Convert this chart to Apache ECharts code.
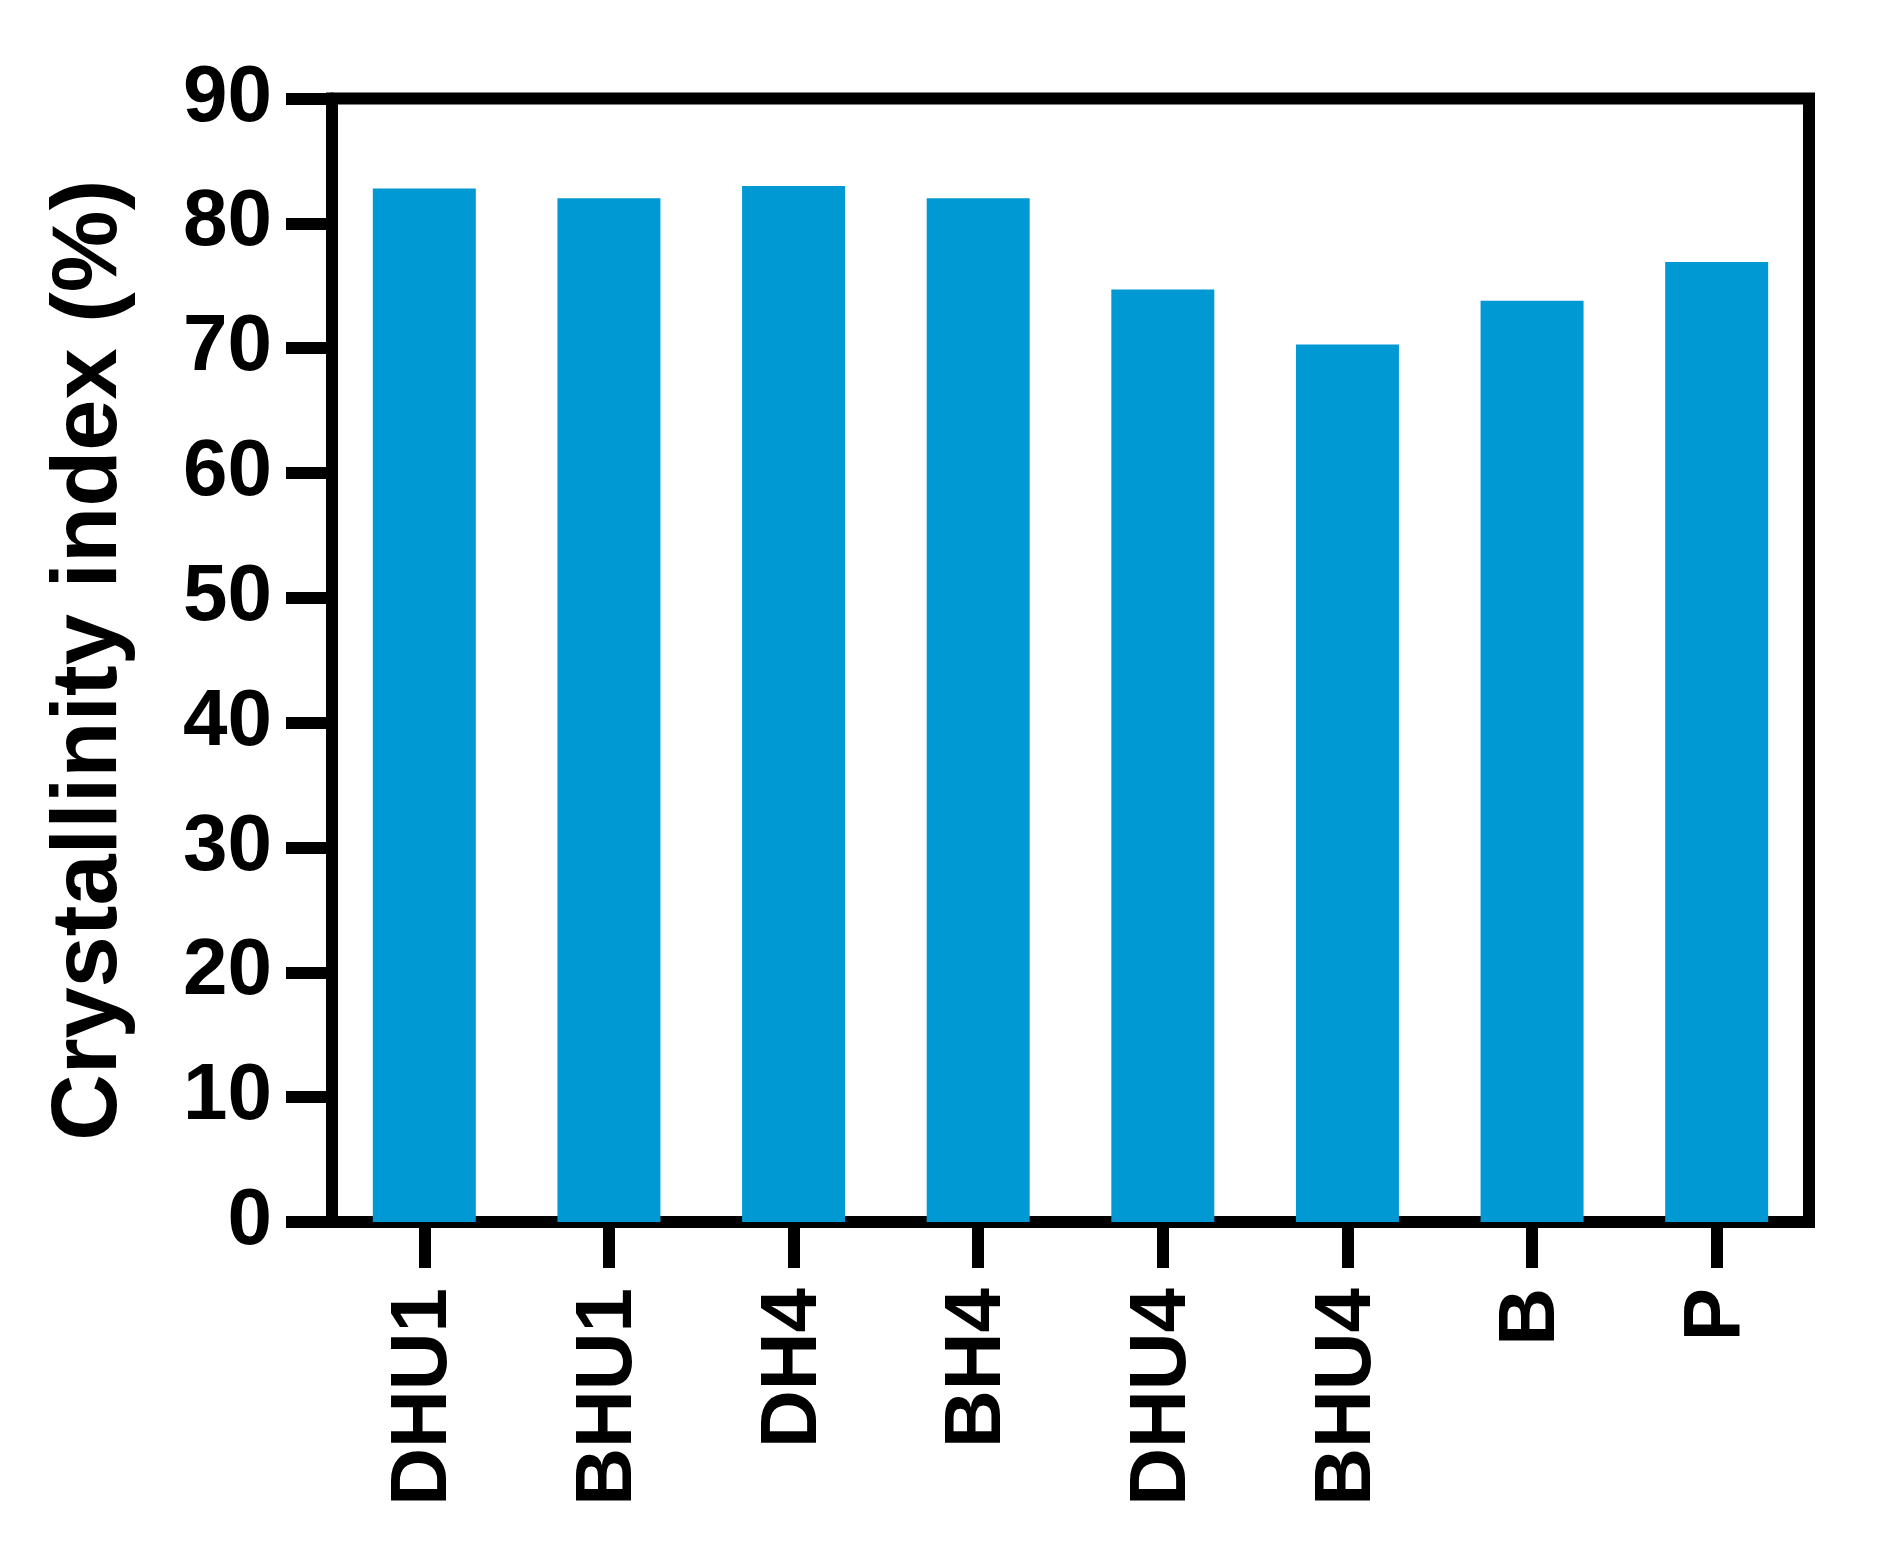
<!DOCTYPE html>
<html>
<head>
<meta charset="utf-8">
<script src="https://cdn.jsdelivr.net/npm/echarts@6/dist/echarts.min.js"></script>
<style>
  html, body { margin: 0; padding: 0; background: #fff; }
  #chart { width: 1880px; height: 1546px; }
</style>
</head>
<body>
<div id="chart"></div>
<script>
// data
const categories = ["DHU1", "BHU1", "DH4", "BH4", "DHU4", "BHU4", "B", "P"];
const crystallinity = [82.8, 82.0, 83.0, 82.0, 74.7, 70.3, 73.8, 76.9];
const yTicks = { min: 0, max: 90, interval: 10 };

const font = "'Liberation Sans', Arial, sans-serif";

const chart = echarts.init(document.getElementById("chart"));
chart.setOption({
  animation: false,
  backgroundColor: "#fff",
  grid: {
    left: 332,
    right: 71,
    top: 98.5,
    bottom: 324,
    show: true,
    borderColor: "#000",
    borderWidth: 12,
  },
  xAxis: {
    type: "category",
    data: categories,
    axisLine: { show: true, lineStyle: { color: "#000", width: 12 } },
    axisTick: {
      show: true,
      interval: 0,
      alignWithLabel: true,
      length: 46,
      lineStyle: { color: "#000", width: 12 },
    },
    axisLabel: {
      interval: 0,
      rotate: 90,
      margin: 66,
      color: "#000",
      fontSize: 80,
      fontWeight: "bold",
      fontFamily: font,
    },
  },
  yAxis: {
    type: "value",
    min: yTicks.min,
    max: yTicks.max,
    interval: yTicks.interval,
    name: "Crystallinity index (%)",
    nameLocation: "middle",
    nameGap: 195,
    nameTextStyle: {
      color: "#000",
      fontSize: 92,
      fontWeight: "bold",
      fontFamily: font,
    },
    splitLine: { show: false },
    axisLine: { show: true, lineStyle: { color: "#000", width: 12 } },
    axisTick: {
      show: true,
      length: 46,
      lineStyle: { color: "#000", width: 12 },
    },
    axisLabel: {
      margin: 60,
      color: "#000",
      fontSize: 80,
      fontWeight: "bold",
      fontFamily: font,
    },
  },
  series: [
    {
      type: "bar",
      data: crystallinity,
      barWidth: 103,
      itemStyle: { color: "#0099d3" },
    },
  ],
});
</script>
</body>
</html>
